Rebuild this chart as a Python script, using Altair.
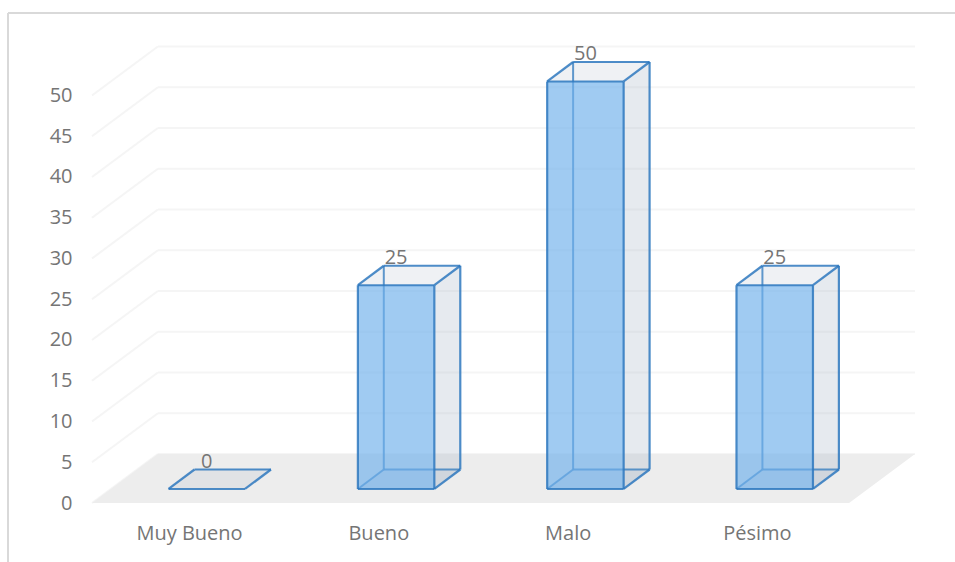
import json
import altair as alt
import pandas as pd

# Survey results
categories = ["Muy Bueno", "Bueno", "Malo", "Pésimo"]
values = [0, 25, 50, 25]
y_ticks = list(range(0, 55, 5))

# Depth projection of the pseudo-3D box, in axis units
WALL_DX, WALL_DY = 0.348, 6.01
BAR_LEFT, BAR_WIDTH = -0.108, 0.404
BAR_DX, BAR_DY = 0.137, 2.39
BAR_BASE = 1.72

FONT = "Open Sans"
FONT_SIZE = 20
TEXT = "#757575"
EDGE = "#2E78BE"

X_DOMAIN = [-0.5124, 3.835]
Y_DOMAIN = [0, 55.95]
xs = alt.Scale(domain=X_DOMAIN, nice=False, zero=False)
ys = alt.Scale(domain=Y_DOMAIN, nice=False, zero=False)

# Every layer shares these channel definitions, so the axes carry labels only
X = alt.X("x:Q", scale=xs, title=None, axis=alt.Axis(
    values=list(range(len(categories))),
    labelExpr=json.dumps(categories, ensure_ascii=False) + "[datum.value]",
    ticks=False, domain=False, grid=False, labelPadding=20,
    labelFont=FONT, labelFontSize=FONT_SIZE, labelColor=TEXT, labelOverlap=False,
))
Y = alt.Y("y:Q", scale=ys, title=None, axis=alt.Axis(
    values=y_ticks,
    ticks=False, domain=False, grid=False, labelPadding=20,
    labelFont=FONT, labelFontSize=FONT_SIZE, labelColor=TEXT, labelOverlap=False,
))

x_left, x_right = X_DOMAIN

# Gridlines: diagonal across the side wall, then horizontal along the back wall
grid_rows = []
for t in y_ticks:
    grid_rows.append({"x": x_left, "x2": x_left + WALL_DX, "y": t, "y2": t + WALL_DY})
    grid_rows.append({"x": x_left + WALL_DX, "x2": x_right, "y": t + WALL_DY, "y2": t + WALL_DY})
grid = alt.Chart(pd.DataFrame(grid_rows)).mark_rule(color="#f5f5f5", strokeWidth=2).encode(
    x=X, x2="x2:Q", y=Y, y2="y2:Q"
)

# Floor
floor_df = pd.DataFrame({
    "y": [0, WALL_DY],
    "x": [x_left, x_left + WALL_DX],
    "x2": [x_right - WALL_DX, x_right],
})
floor = alt.Chart(floor_df).mark_area(orient="horizontal", color="#ededed").encode(
    x=X, x2="x2:Q", y=Y
)

# Faces and edges of each box
front, side, top, bottom, edges_back, edges_front = [], [], [], [], [], []
for i, (cat, v) in enumerate(zip(categories, values)):
    l = i + BAR_LEFT
    r = l + BAR_WIDTH
    b = BAR_BASE
    t = b + v
    top += [
        {"cat": cat, "y": t, "x": l, "x2": r},
        {"cat": cat, "y": t + BAR_DY, "x": l + BAR_DX, "x2": r + BAR_DX},
    ]
    edges_front += [
        {"x": l, "x2": r, "y": t, "y2": t},
        {"x": l, "x2": l + BAR_DX, "y": t, "y2": t + BAR_DY},
        {"x": r, "x2": r + BAR_DX, "y": t, "y2": t + BAR_DY},
        {"x": l + BAR_DX, "x2": r + BAR_DX, "y": t + BAR_DY, "y2": t + BAR_DY},
    ]
    if v > 0:
        bottom += [
            {"cat": cat, "y": b, "x": l, "x2": r},
            {"cat": cat, "y": b + BAR_DY, "x": l + BAR_DX, "x2": r + BAR_DX},
        ]
        front.append({"cat": cat, "x": l, "x2": r, "y": b, "y2": t})
        side += [
            {"cat": cat, "x": r, "y": b, "y2": t},
            {"cat": cat, "x": r + BAR_DX, "y": b + BAR_DY, "y2": t + BAR_DY},
        ]
        edges_back += [
            {"x": l + BAR_DX, "x2": l + BAR_DX, "y": b + BAR_DY, "y2": t + BAR_DY},
            {"x": l, "x2": l + BAR_DX, "y": b, "y2": b + BAR_DY},
            {"x": l + BAR_DX, "x2": r + BAR_DX, "y": b + BAR_DY, "y2": b + BAR_DY},
        ]
        edges_front += [
            {"x": l, "x2": r, "y": b, "y2": b},
            {"x": l, "x2": l, "y": b, "y2": t},
            {"x": r, "x2": r, "y": b, "y2": t},
            {"x": r + BAR_DX, "x2": r + BAR_DX, "y": b + BAR_DY, "y2": t + BAR_DY},
            {"x": r, "x2": r + BAR_DX, "y": b, "y2": b + BAR_DY},
        ]

bottom_faces = alt.Chart(pd.DataFrame(bottom)).mark_area(
    orient="horizontal", color="#ADB9CA", opacity=0.2
).encode(x=X, x2="x2:Q", y=Y, detail="cat:N")
side_faces = alt.Chart(pd.DataFrame(side)).mark_area(
    orient="vertical", color="#ADB9CA", opacity=0.3
).encode(x=X, y=Y, y2="y2:Q", detail="cat:N")
top_faces = alt.Chart(pd.DataFrame(top)).mark_area(
    orient="horizontal", color="#ADB9CA", opacity=0.2
).encode(x=X, x2="x2:Q", y=Y, detail="cat:N")
hidden_edges = alt.Chart(pd.DataFrame(edges_back)).mark_rule(
    color=EDGE, strokeWidth=2, opacity=0.75
).encode(x=X, x2="x2:Q", y=Y, y2="y2:Q")
front_faces = alt.Chart(pd.DataFrame(front)).mark_rect(color="#6FB0EC", opacity=0.66).encode(
    x=X, x2="x2:Q", y=Y, y2="y2:Q"
)
visible_edges = alt.Chart(pd.DataFrame(edges_front)).mark_rule(
    color=EDGE, strokeWidth=2.2, opacity=0.85
).encode(x=X, x2="x2:Q", y=Y, y2="y2:Q")

# Value labels above each box
label_df = pd.DataFrame({
    "x": [i + BAR_LEFT + BAR_WIDTH / 2 for i in range(len(values))],
    "y": [BAR_BASE + BAR_DY + v for v in values],
    "v": values,
})
value_labels = alt.Chart(label_df).mark_text(
    font=FONT, fontSize=FONT_SIZE, color=TEXT, baseline="middle", dy=-8
).encode(x=X, y=Y, text="v:Q")

# Chart frame, top and left sides only
frame_top = alt.Chart().mark_rule(color="#d9d9d9", strokeWidth=2).encode(
    x=alt.value(-84), x2=alt.value(863), y=alt.value(-34)
)
frame_left = alt.Chart().mark_rule(color="#d9d9d9", strokeWidth=2).encode(
    x=alt.value(-84), y=alt.value(-34), y2=alt.value(515)
)

chart = alt.layer(
    frame_top, frame_left, grid, floor, bottom_faces, side_faces, top_faces,
    hidden_edges, front_faces, visible_edges, value_labels,
).properties(
    width=823,
    height=456,
    autosize=alt.AutoSizeParams(type="none"),
    padding={"left": 92, "top": 47, "right": 40, "bottom": 59},
    background="white",
).configure_view(stroke=None)

chart.save("out.html", embed_options={"renderer": "svg", "actions": False})
